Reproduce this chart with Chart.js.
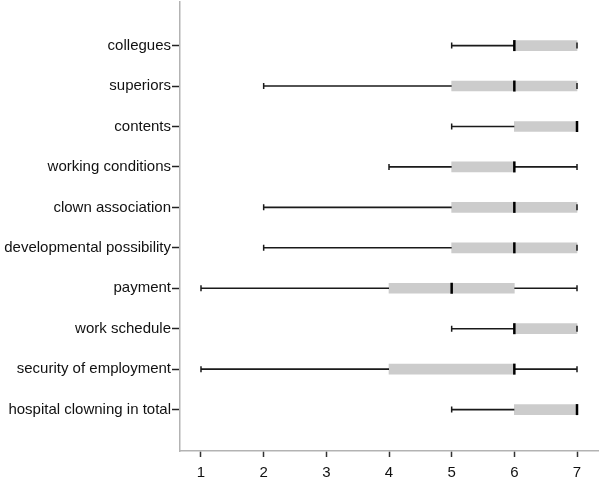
<!DOCTYPE html>
<html lang="en">
<head>
    <meta charset="UTF-8">
    <title>Hospital clowning ratings</title>
    <script src="https://cdn.jsdelivr.net/npm/chart.js"></script>
    <style>
        body {
            margin: 0;
            background-color: #fff;
        }
        #chartContainer {
            width: 600px;
            height: 480px;
        }
    </style>
</head>
<body>
    <div id="chartContainer">
        <canvas id="boxChart"></canvas>
    </div>
    <script>
        // Box plot values per category (min, lower quartile, median, upper quartile, max)
        const categories = [
            'collegues', 'superiors', 'contents', 'working conditions', 'clown association',
            'developmental possibility', 'payment', 'work schedule', 'security of employment',
            'hospital clowning in total'
        ];
        const minValues    = [5, 2, 5, 4, 2, 2, 1, 5, 1, 5];
        const q1Values     = [6, 5, 6, 5, 5, 5, 4, 6, 4, 6];
        const medianValues = [6, 6, 7, 6, 6, 6, 5, 6, 6, 7];
        const q3Values     = [7, 7, 7, 6, 7, 7, 6, 7, 6, 7];
        const maxValues    = [7, 7, 7, 7, 7, 7, 7, 7, 7, 7];
        const xTicks = [1, 2, 3, 4, 5, 6, 7];

        const fontFamily = "'Liberation Sans', Arial, sans-serif";

        // whiskers, caps and median drawn on top of the grey boxes
        const whiskerPlugin = {
            id: 'whiskers',
            afterDatasetsDraw(chart) {
                const ctx = chart.ctx;
                const xs = chart.scales.x;
                const ys = chart.scales.y;
                ctx.save();
                categories.forEach((c, i) => {
                    const y = ys.getPixelForValue(i);
                    const xMin = xs.getPixelForValue(minValues[i]);
                    const xQ1 = xs.getPixelForValue(q1Values[i]);
                    const xQ3 = xs.getPixelForValue(q3Values[i]);
                    const xMax = xs.getPixelForValue(maxValues[i]);
                    const xMed = xs.getPixelForValue(medianValues[i]);

                    ctx.strokeStyle = '#1a1a1a';
                    ctx.lineWidth = 1.6;
                    ctx.beginPath();
                    if (xQ1 > xMin) { ctx.moveTo(xMin, y); ctx.lineTo(xQ1, y); }
                    if (xMax > xQ3) { ctx.moveTo(xQ3, y); ctx.lineTo(xMax, y); }
                    ctx.stroke();

                    ctx.lineWidth = 1.5;
                    ctx.beginPath();
                    ctx.moveTo(xMin, y - 3); ctx.lineTo(xMin, y + 3);
                    ctx.moveTo(xMax, y - 3); ctx.lineTo(xMax, y + 3);
                    ctx.stroke();

                    ctx.lineWidth = 2.5;
                    ctx.strokeStyle = '#000';
                    ctx.beginPath();
                    ctx.moveTo(xMed, y - 5.5); ctx.lineTo(xMed, y + 5.5);
                    ctx.stroke();
                });
                ctx.restore();
            }
        };

        const ctx = document.getElementById('boxChart').getContext('2d');
        new Chart(ctx, {
            type: 'bar',
            data: {
                datasets: [{
                    label: 'interquartile range',
                    data: categories.map((c, i) => ({ x: [q1Values[i], q3Values[i]], y: i })),
                    backgroundColor: '#cccccc',
                    borderWidth: 0,
                    barThickness: 10
                }]
            },
            options: {
                indexAxis: 'y',
                responsive: true,
                maintainAspectRatio: false,
                animation: false,
                layout: {
                    padding: { top: 0, right: 2, left: 0, bottom: 0 }
                },
                plugins: {
                    legend: { display: false },
                    tooltip: { enabled: false }
                },
                scales: {
                    x: {
                        type: 'linear',
                        min: 0.665,
                        max: 7.335,
                        afterBuildTicks: (scale) => { scale.ticks = xTicks.map(v => ({ value: v })); },
                        afterFit: (scale) => { scale.height = 29; },
                        grid: {
                            drawOnChartArea: false,
                            tickLength: 6,
                            tickColor: '#333',
                            tickWidth: 1.5
                        },
                        border: { color: '#b3b3b3', width: 1.5 },
                        ticks: {
                            padding: 7,
                            color: '#111',
                            font: { family: fontFamily, size: 15 }
                        }
                    },
                    y: {
                        type: 'linear',
                        reverse: true,
                        offset: false,
                        min: -1.084,
                        max: 10.024,
                        afterBuildTicks: (scale) => { scale.ticks = categories.map((c, i) => ({ value: i })); },
                        afterFit: (scale) => { scale.width = 180; },
                        grid: {
                            offset: false,
                            drawOnChartArea: false,
                            tickLength: 8,
                            tickColor: '#222',
                            tickWidth: 1.5
                        },
                        border: { color: '#b3b3b3', width: 1.5 },
                        ticks: {
                            padding: 1,
                            color: '#111',
                            font: { family: fontFamily, size: 15, lineHeight: 0.1 },
                            callback: (value) => categories[value]
                        }
                    }
                }
            },
            plugins: [whiskerPlugin]
        });
    </script>
</body>
</html>
